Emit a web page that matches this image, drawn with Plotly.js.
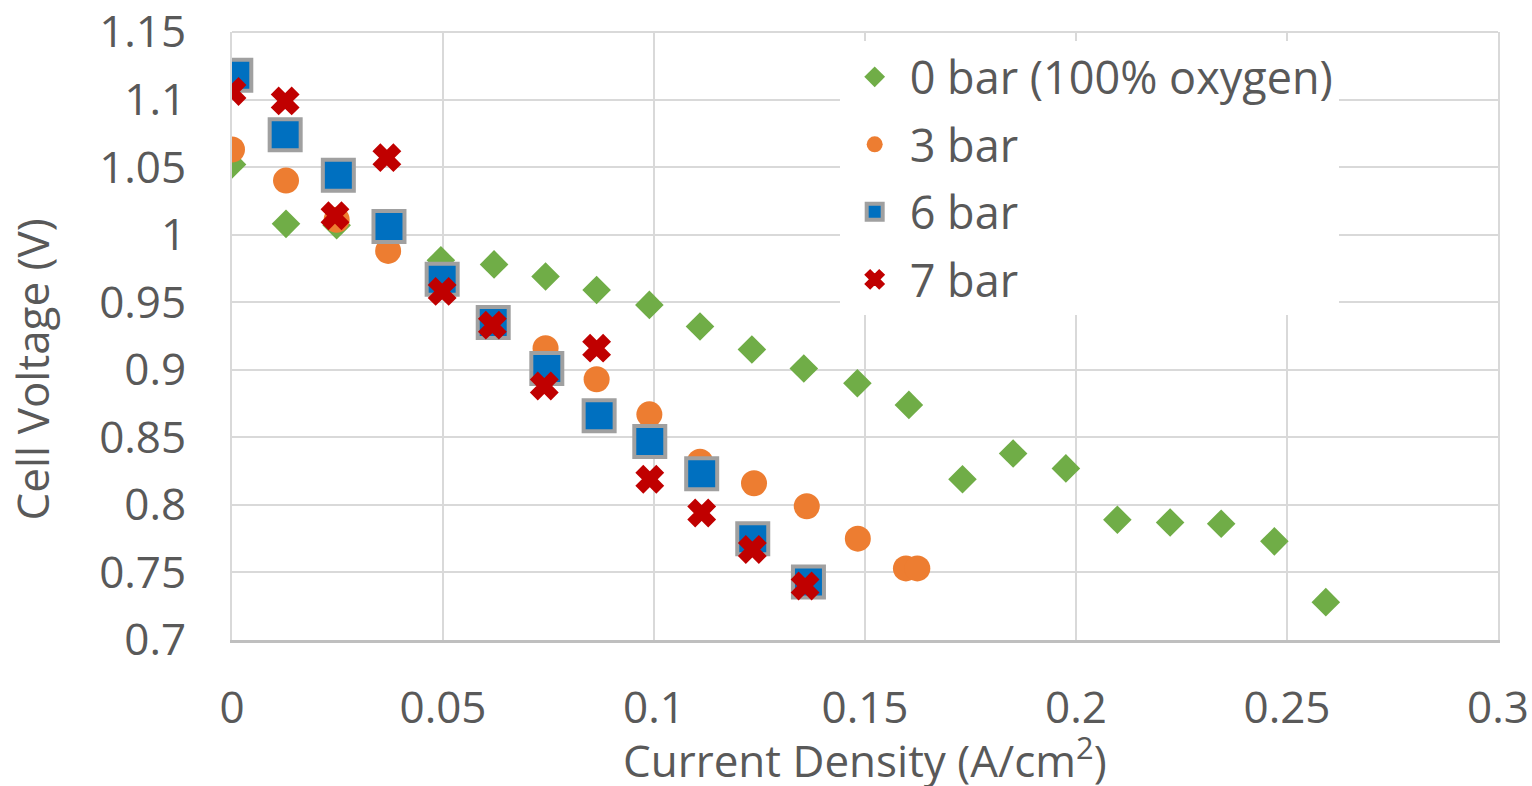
<!DOCTYPE html>
<html>
<head>
<meta charset="utf-8">
<script src="https://cdn.plot.ly/plotly-3.0.1.min.js"></script>
<style>
  html, body { margin: 0; padding: 0; background: #ffffff; }
  #chart { width: 1532px; height: 786px; }
</style>
</head>
<body>
<div id="chart"></div>
<script>
// Polarisation curves: cell voltage vs current density at several pressures
const seriesNames = ['0 bar (100% oxygen)', '3 bar', '6 bar', '7 bar'];

const current0bar = [0, 0.0128, 0.0248, 0.0370, 0.0495, 0.0621, 0.0743, 0.0864, 0.0989, 0.1109,
                     0.1232, 0.1355, 0.1482, 0.1604, 0.1731, 0.1851, 0.1976, 0.2098, 0.2223,
                     0.2344, 0.2470, 0.2592];
const voltage0bar = [1.052, 1.008, 1.007, 0.996, 0.981, 0.978, 0.969, 0.959, 0.948, 0.932,
                     0.915, 0.901, 0.890, 0.874, 0.819, 0.838, 0.827, 0.789, 0.787,
                     0.786, 0.773, 0.728];

const current3bar = [0, 0.0128, 0.0248, 0.0370, 0.0495, 0.0619, 0.0743, 0.0864, 0.0989, 0.1109,
                     0.1237, 0.1362, 0.1483, 0.1597, 0.1624];
const voltage3bar = [1.063, 1.040, 1.011, 0.988, 0.966, 0.935, 0.916, 0.893, 0.867, 0.832,
                     0.816, 0.799, 0.775, 0.753, 0.753];

const current6bar = [0.0009, 0.0126, 0.0252, 0.0372, 0.0498, 0.0619, 0.0746, 0.0870, 0.0990,
                     0.1113, 0.1234, 0.1366];
const voltage6bar = [1.118, 1.074, 1.044, 1.006, 0.967, 0.935, 0.901, 0.866, 0.847,
                     0.823, 0.775, 0.743];

const current7bar = [0, 0.0126, 0.0244, 0.0367, 0.0498, 0.0617, 0.0740, 0.0864, 0.0990,
                     0.1113, 0.1233, 0.1358];
const voltage7bar = [1.106, 1.099, 1.014, 1.057, 0.958, 0.933, 0.888, 0.916, 0.819,
                     0.794, 0.767, 0.740];

const xTickVals = [0, 0.05, 0.1, 0.15, 0.2, 0.25, 0.3];
const xTickText = ['0', '0.05', '0.1', '0.15', '0.2', '0.25', '0.3'];
const yTickVals = [0.7, 0.75, 0.8, 0.85, 0.9, 0.95, 1, 1.05, 1.1, 1.15];
const yTickText = ['0.7', '0.75', '0.8', '0.85', '0.9', '0.95', '1', '1.05', '1.1', '1.15'];

const textColor = '#595959';
const gridColor = '#d9d9d9';
const fontFamily = '"Open Sans", "Noto Sans", sans-serif';

const traces = [
  {
    x: current0bar, y: voltage0bar, name: seriesNames[0], legendgroup: 'g0',
    type: 'scatter', mode: 'markers',
    marker: { symbol: 'diamond', size: 22, color: '#70ad47' }
  },
  {
    x: current3bar, y: voltage3bar, name: seriesNames[1], legendgroup: 'g1',
    type: 'scatter', mode: 'markers',
    marker: { symbol: 'circle', size: 26, color: '#ed7d31' }
  },
  {
    x: current6bar, y: voltage6bar, name: seriesNames[2], legendgroup: 'g2',
    type: 'scatter', mode: 'markers',
    marker: { symbol: 'square', size: 31, color: '#0070c0', line: { color: '#a0a0a0', width: 4 } }
  },
  {
    x: current7bar, y: voltage7bar, name: seriesNames[3], legendgroup: 'g3',
    type: 'scatter', mode: 'markers',
    marker: { symbol: 'x', size: 23, color: '#c00000', line: { color: '#c00000', width: 2 } }
  }
];

const layout = {
  width: 1532,
  height: 786,
  paper_bgcolor: '#ffffff',
  plot_bgcolor: '#ffffff',
  margin: { l: 232, r: 34, t: 32, b: 146, pad: 0 },
  font: { family: fontFamily, color: textColor, size: 44 },
  showlegend: true,
  legend: {
    x: 0.48, y: 0.985, xanchor: 'left', yanchor: 'top',
    bgcolor: '#ffffff',
    font: { family: fontFamily, size: 45, color: textColor },
    tracegroupgap: 6,
    itemwidth: 60
  },
  xaxis: {
    range: [0, 0.3],
    tickmode: 'array', tickvals: xTickVals, ticktext: xTickText,
    ticks: '', ticklabelstandoff: 27,
    showgrid: true, gridcolor: gridColor, gridwidth: 2,
    zeroline: false,
    showline: true, linecolor: '#bfbfbf', linewidth: 3,
    tickfont: { family: fontFamily, size: 44, color: textColor },
    fixedrange: true
  },
  yaxis: {
    range: [0.7, 1.15],
    tickmode: 'array', tickvals: yTickVals, ticktext: yTickText,
    ticks: '', ticklabelstandoff: 35,
    ticklabeloverflow: 'allow',
    showgrid: true, gridcolor: gridColor, gridwidth: 2,
    zeroline: false,
    showline: true, linecolor: gridColor, linewidth: 2, mirror: true,
    tickfont: { family: fontFamily, size: 44, color: textColor },
    fixedrange: true
  },
  annotations: [
    {
      text: 'Cell Voltage (V)', textangle: -90,
      xref: 'paper', yref: 'paper', x: -0.158, y: 0.445,
      xanchor: 'center', yanchor: 'middle', showarrow: false,
      font: { family: fontFamily, size: 44, color: textColor }
    },
    {
      text: 'Current Density (A/cm<sup>2</sup>)',
      xref: 'paper', yref: 'paper', x: 0.5, y: -0.194,
      xanchor: 'center', yanchor: 'middle', showarrow: false,
      font: { family: fontFamily, size: 44, color: textColor }
    }
  ],
  shapes: [
    {
      type: 'line', xref: 'paper', yref: 'paper', x0: 0, x1: 1, y0: 1, y1: 1,
      line: { color: gridColor, width: 2 }, layer: 'below'
    }
  ]
};

Plotly.newPlot('chart', traces, layout, { displayModeBar: false, staticPlot: true });
</script>
</body>
</html>
